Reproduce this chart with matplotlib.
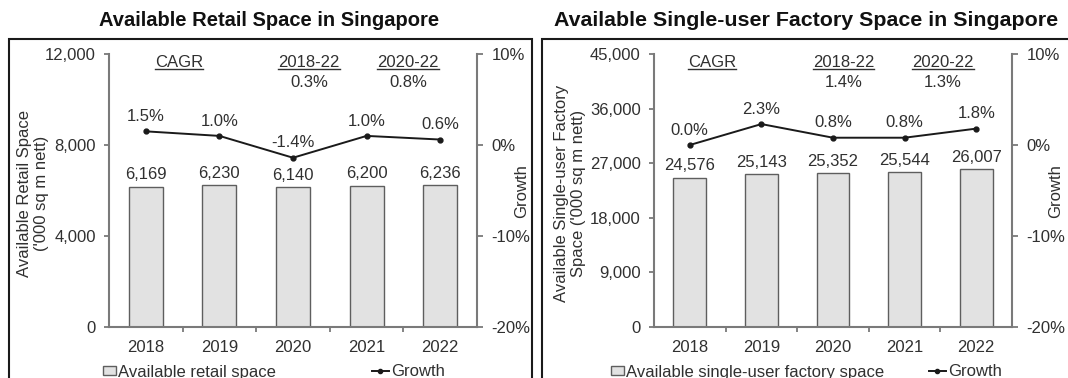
import matplotlib
matplotlib.use("Agg")
import matplotlib.pyplot as plt
from matplotlib.patches import Rectangle, Patch
from matplotlib.lines import Line2D
import numpy as np

plt.rcParams['font.family'] = ['Liberation Sans', 'DejaVu Sans']

years = ["2018", "2019", "2020", "2021", "2022"]
retail_space = [6169, 6230, 6140, 6200, 6236]
retail_growth = [1.5, 1.0, -1.4, 1.0, 0.6]
factory_space = [24576, 25143, 25352, 25544, 26007]
factory_growth = [0.0, 2.3, 0.8, 0.8, 1.8]
retail_cagr = ["0.3%", "0.8%"]
factory_cagr = ["1.4%", "1.3%"]
cagr_heads = ["CAGR", "2018-22", "2020-22"]

W, H = 1068, 378
fig = plt.figure(figsize=(W / 100, H / 100), dpi=100)

TXT = "#303030"
SPINE = "#7a7a7a"
FS = 12


def px(x0, y_top, x1, y_bot):
    return [x0 / W, 1 - y_bot / H, (x1 - x0) / W, (y_bot - y_top) / H]


panels = [
    dict(rect=px(109, 54, 477, 327), box=(9, 532), title="Available Retail Space in Singapore",
         tx=269, tfs=14.5, vals=retail_space, growth=retail_growth, ymax=12000, step=4000,
         ylabel="Available Retail Space\n('000 sq m nett)", ylx=-0.163, cagr=retail_cagr,
         hx=[0.19, 0.543, 0.812],
         legend="Available retail space", leg1=103, leg2=372),
    dict(rect=px(654, 54, 1012, 327), box=(542, 1075), title="Available Single-user Factory Space in Singapore",
         tx=806, tfs=15.4, vals=factory_space, growth=factory_growth, ymax=45000, step=9000,
         ylabel="Available Single-user Factory\nSpace ('000 sq m nett)", ylx=-0.19, cagr=factory_cagr,
         hx=[0.162, 0.53, 0.807],
         legend="Available single-user factory space", leg1=611, leg2=929),
]

underline_texts = []

for p in panels:
    x0, x1 = p["box"]
    fig.patches.append(Rectangle((x0 / W, -0.05), (x1 - x0) / W, 1.05 - 39 / H,
                                 transform=fig.transFigure, fill=False, ec="#1a1a1a", lw=1.5))
    fig.text(p["tx"] / W, 1 - 20 / H, p["title"], ha="center", va="center",
             fontsize=p["tfs"], fontweight="bold", color="#111111")

    ax = fig.add_axes(p["rect"])
    x = np.arange(len(years))
    ax.bar(x, p["vals"], width=0.46, color="#e2e2e2", edgecolor="#5e5e5e", lw=1.0, zorder=2)
    for xi, v in zip(x, p["vals"]):
        ax.text(xi, v + p["ymax"] * 12 / 273, f"{v:,}", ha="center", va="center",
                fontsize=FS, color=TXT)
    ax.set_xlim(-0.5, 4.5)
    ax.set_ylim(0, p["ymax"])
    ax.set_yticks(np.arange(0, p["ymax"] + 1, p["step"]))
    ax.set_yticklabels([f"{int(t):,}" for t in ax.get_yticks()], fontsize=FS, color=TXT)
    ax.set_xticks(x)
    ax.set_xticklabels(years, fontsize=FS, color=TXT)
    ax.tick_params(axis="x", length=0, pad=9.5)
    ax.set_xticks(np.arange(0.5, 4.5, 1), minor=True)
    ax.tick_params(axis="x", which="minor", length=3.5, color=SPINE, width=1.3)
    ax.tick_params(axis="y", length=3.5, color=SPINE, width=1.3, pad=6)
    for s in ["top", "right"]:
        ax.spines[s].set_visible(False)
    for s in ["left", "bottom"]:
        ax.spines[s].set_color(SPINE)
        ax.spines[s].set_linewidth(1.5)
    ax.set_ylabel(p["ylabel"], fontsize=FS, color=TXT, linespacing=1.15)
    ax.yaxis.set_label_coords(p["ylx"], 0.49)

    ax2 = ax.twinx()
    ax2.set_ylim(-20, 10)
    ax2.set_yticks([-20, -10, 0, 10])
    ax2.set_yticklabels(["-20%", "-10%", "0%", "10%"], fontsize=FS, color=TXT)
    ax2.tick_params(axis="y", length=4.5, color=SPINE, width=1.3, pad=6)
    for s in ["top", "left", "bottom"]:
        ax2.spines[s].set_visible(False)
    ax2.spines["right"].set_color(SPINE)
    ax2.spines["right"].set_linewidth(1.5)
    ax2.set_ylabel("Growth", fontsize=FS, color=TXT)
    ax2.yaxis.set_label_coords(1.10, 0.498)
    ax2.plot(x, p["growth"], color="#1a1a1a", lw=1.4, marker="o", ms=3.5, zorder=3)
    for xi, g in zip(x, p["growth"]):
        ax2.text(xi, g + 1.62, f"{g:.1f}%", ha="center", va="center", fontsize=FS, color=TXT)

    for hxi, head in zip(p["hx"], cagr_heads):
        t = ax.text(hxi, 0.97, head, transform=ax.transAxes, ha="center", va="center",
                    fontsize=FS, color=TXT)
        underline_texts.append(t)
    for hxi, val in zip(p["hx"][1:], p["cagr"]):
        ax.text(hxi, 0.896, val, transform=ax.transAxes, ha="center", va="center",
                fontsize=FS, color=TXT)

    leg_y = 1 - 372 / H
    fig.legend([Patch(facecolor="#e2e2e2", edgecolor="#5e5e5e", lw=1.0)], [p["legend"]],
               frameon=False, fontsize=FS, loc="center left",
               bbox_to_anchor=(p["leg1"] / W, leg_y), bbox_transform=fig.transFigure,
               handlelength=0.75, handleheight=0.5, handletextpad=0.15,
               labelcolor=TXT, borderpad=0, borderaxespad=0)
    fig.legend([Line2D([0], [0], color="#1a1a1a", lw=1.4, marker="o", ms=3)], ["Growth"],
               frameon=False, fontsize=FS, loc="center left",
               bbox_to_anchor=(p["leg2"] / W, leg_y), bbox_transform=fig.transFigure,
               handlelength=1.0, handletextpad=0.15,
               labelcolor=TXT, borderpad=0, borderaxespad=0)

fig.canvas.draw()
r = fig.canvas.get_renderer()
for t in underline_texts:
    bb = t.get_window_extent(r)
    y = bb.y0 + 1
    fig.lines.append(Line2D([bb.x0 / W, bb.x1 / W], [y / H, y / H], transform=fig.transFigure,
                            color=TXT, lw=1.0))

fig.savefig("out.png", dpi=100)
